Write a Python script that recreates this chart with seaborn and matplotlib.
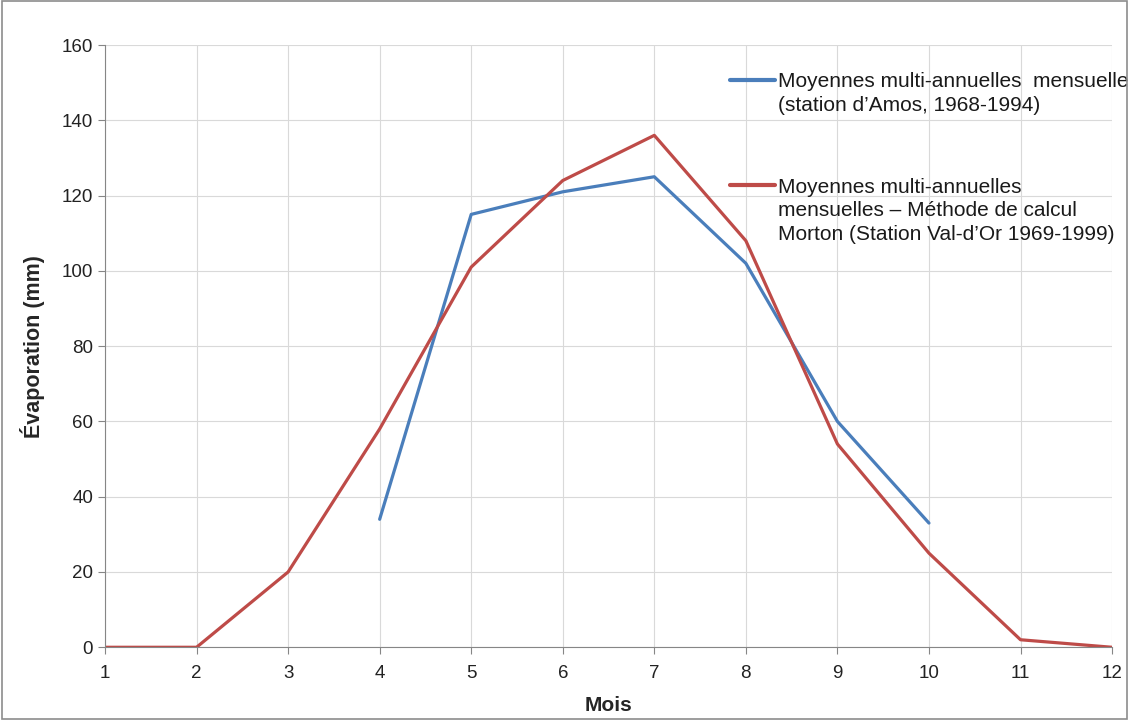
import numpy as np
import pandas as pd
import matplotlib
matplotlib.use('Agg')
import matplotlib.pyplot as plt
import seaborn as sns

# Données
mois = list(range(1, 13))
amos = [np.nan, np.nan, np.nan, 34, 115, 121, 125, 102, 60, 33, np.nan, np.nan]
morton = [0, 0, 20, 58, 101, 124, 136, 108, 54, 25, 2, 0]

lab_amos = "Moyennes multi-annuelles  mensuelle\n(station d\u2019Amos, 1968-1994)"
lab_morton = ("Moyennes multi-annuelles\nmensuelles \u2013 Méthode de calcul\n"
              "Morton (Station Val-d\u2019Or 1969-1999)")
couleurs = {lab_amos: '#4a7ebb', lab_morton: '#be4b48'}

df = pd.DataFrame({
    'Mois': mois * 2,
    'Evaporation': amos + morton,
    'Serie': [lab_amos] * 12 + [lab_morton] * 12,
}).dropna()

sns.set_style('white')
plt.rcParams['font.family'] = ['Liberation Sans', 'DejaVu Sans']

fig = plt.figure(figsize=(11.29, 7.2), dpi=100)
ax = fig.add_axes([0.093, 0.101, 0.892, 0.8365])

sns.lineplot(df, x='Mois', y='Evaporation', hue='Serie', palette=couleurs,
             linewidth=2.3, ax=ax, legend=False)

ax.set_xlim(1, 12)
ax.set_ylim(0, 160)
ax.set_xticks(mois)
ax.set_yticks(range(0, 161, 20))
ax.grid(True, color='#d9d9d9', linewidth=0.8)
ax.set_axisbelow(True)
for s in ['top', 'right']:
    ax.spines[s].set_visible(False)
for s in ['left', 'bottom']:
    ax.spines[s].set_color('#868686')
ax.tick_params(axis='both', labelsize=13.5, colors='#222222', length=5,
               direction='out', left=True, bottom=True, color='#868686')
ax.tick_params(axis='x', pad=8)
ax.set_xlabel("Mois", fontsize=15, fontweight='bold', labelpad=10)
ax.set_ylabel("Évaporation (mm)", fontsize=15.5, fontweight='bold', labelpad=12)

# légende : trait aligné sur la première ligne du texte
for lab, y in [(lab_amos, 0.942), (lab_morton, 0.767)]:
    ax.plot([0.621, 0.665], [y, y], transform=ax.transAxes, color=couleurs[lab],
            linewidth=3, clip_on=False)
    ax.text(0.668, y + 0.013, lab, transform=ax.transAxes, fontsize=15, va='top',
            color='#1a1a1a', linespacing=1.32)

fig.patches.append(plt.Rectangle((0.002, 0.002), 0.996, 0.996, transform=fig.transFigure,
                                 fill=False, edgecolor='#8c8c8c', linewidth=1.2))

plt.savefig('out.png', dpi=100)
